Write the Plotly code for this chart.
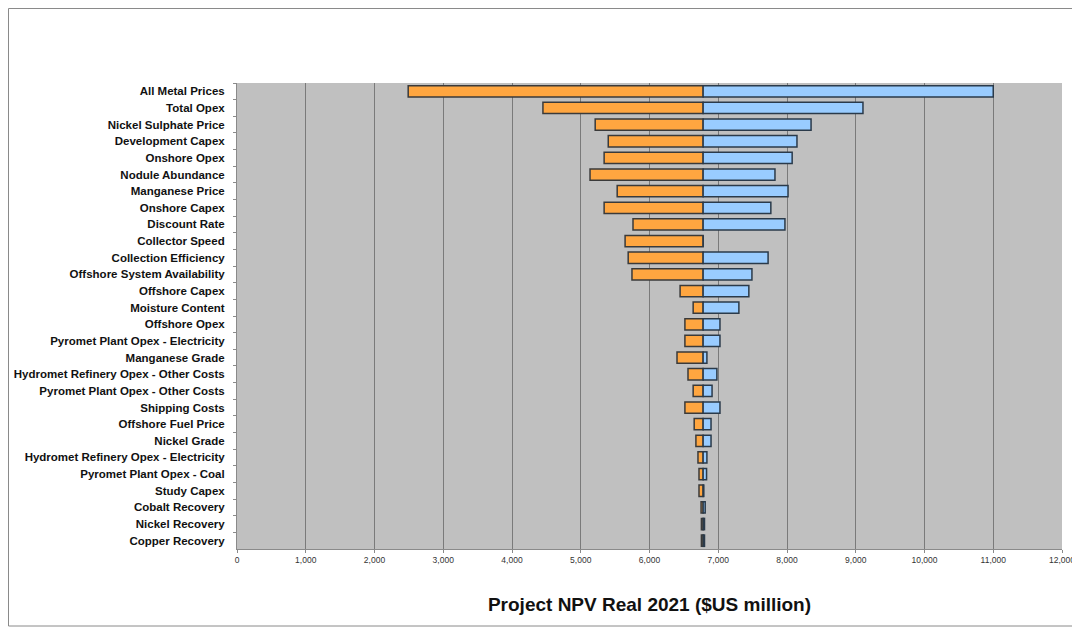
import plotly.graph_objects as go

categories = [
    "All Metal Prices", "Total Opex", "Nickel Sulphate Price", "Development Capex",
    "Onshore Opex", "Nodule Abundance", "Manganese Price", "Onshore Capex",
    "Discount Rate", "Collector Speed", "Collection Efficiency",
    "Offshore System Availability", "Offshore Capex", "Moisture Content",
    "Offshore Opex", "Pyromet Plant Opex - Electricity", "Manganese Grade",
    "Hydromet Refinery Opex - Other Costs", "Pyromet Plant Opex - Other Costs",
    "Shipping Costs", "Offshore Fuel Price", "Nickel Grade",
    "Hydromet Refinery Opex - Electricity", "Pyromet Plant Opex - Coal",
    "Study Capex", "Cobalt Recovery", "Nickel Recovery", "Copper Recovery",
]
base_npv = 6780
low_npv = [2490, 4450, 5210, 5400, 5340, 5135, 5530, 5340, 5760, 5645, 5690,
           5745, 6445, 6635, 6515, 6515, 6400, 6560, 6635, 6515, 6650, 6675,
           6705, 6720, 6720, 6750, 6755, 6755]
high_npv = [11000, 9105, 8350, 8145, 8075, 7825, 8015, 7765, 7970, 6780, 7725,
            7490, 7445, 7300, 7025, 7025, 6835, 6980, 6910, 7025, 6895, 6895,
            6835, 6830, 6790, 6810, 6800, 6800]
x_ticks = list(range(0, 12001, 1000))

orange_len = [base_npv - v for v in low_npv]
blue_len = [v - base_npv for v in high_npv]

fig = go.Figure()
fig.add_trace(go.Bar(
    y=categories, x=orange_len, base=low_npv, orientation="h",
    marker=dict(color="#FFA640", line=dict(color="#3a3a3a", width=1.5)),
    width=0.68, showlegend=False,
))
fig.add_trace(go.Bar(
    y=categories, x=blue_len, base=[base_npv] * len(categories), orientation="h",
    marker=dict(color="#99CCFF", line=dict(color="#2a3a4a", width=1.5)),
    width=0.68, showlegend=False,
))

FW, FH = 1072, 619
L, R, T, B = 229, 1054, 75, 541
W, H = R - L, B - T


def px(x):
    return (x - L) / W


def py(y):
    return (B - y) / H


fig.add_shape(type="rect", xref="paper", yref="paper",
              x0=px(0.5), x1=px(1068), y0=py(0.5), y1=py(618),
              line=dict(color="#8a8a8a", width=1), layer="below")

fig.update_layout(
    width=FW, height=FH,
    margin=dict(l=L, r=FW - R, t=T, b=FH - B, autoexpand=False),
    paper_bgcolor="white", plot_bgcolor="#C0C0C0",
    barmode="overlay",
    font=dict(family="Liberation Sans, Arial, sans-serif", color="#111"),
    xaxis=dict(
        range=[0, 12000], tickvals=x_ticks, tickformat=",",
        automargin=False,
        showgrid=True, gridcolor="#7a7a7a", gridwidth=1,
        zeroline=False, showline=True, linecolor="#8a8a8a",
        ticks="outside", ticklen=3, tickcolor="#8a8a8a",
        tickfont=dict(size=8.5, color="#333"),
        title=dict(text="Project NPV Real 2021 ($US million)",
                   font=dict(size=19, color="#111", weight="bold"),
                   standoff=33),
    ),
    yaxis=dict(
        autorange="reversed", showgrid=False, zeroline=False,
        automargin=False,
        showline=True, linecolor="#8a8a8a",
        ticks="outside", tickson="boundaries", ticklen=3, tickcolor="#8a8a8a",
        tickfont=dict(size=11.5, color="#111", weight="bold"),
        ticklabelstandoff=9,
    ),
)

fig.write_html("out.html")
